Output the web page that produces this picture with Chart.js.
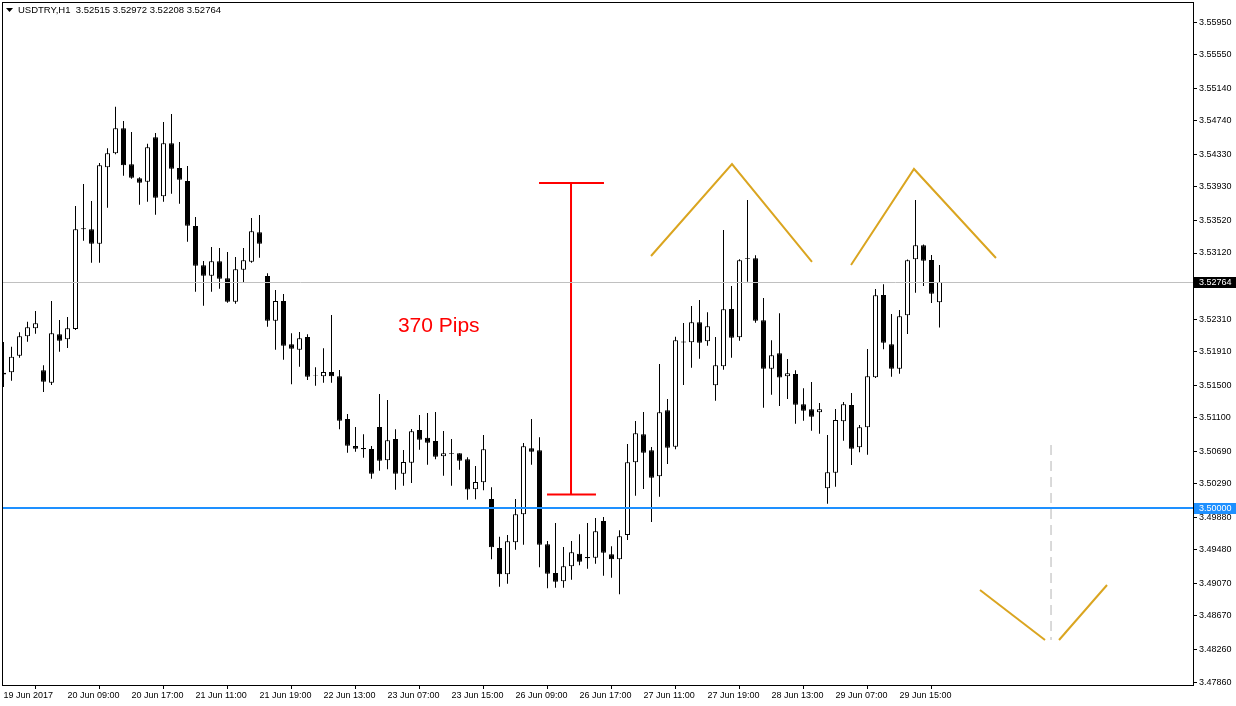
<!DOCTYPE html>
<html>
<head>
<meta charset="utf-8">
<script src="https://cdn.jsdelivr.net/npm/chart.js@4.4.1/dist/chart.umd.min.js"></script>
<style>
  html, body { margin: 0; padding: 0; background: #fff; }
  canvas { display: block; }
</style>
</head>
<body>
<canvas id="chart" width="1236" height="706"></canvas>
<script>
// USDTRY H1 candles, one entry per bar (left to right)
const opens = [
  3.51631, 3.51658, 3.51861, 3.52099, 3.52197, 3.51682, 3.51530, 3.52123, 3.52062, 3.52188,
  3.53423, 3.53411, 3.53234, 3.54171, 3.54343, 3.54649, 3.54208, 3.54036, 3.53994, 3.54539,
  3.53815, 3.54465, 3.54162, 3.54003, 3.53451, 3.52969, 3.52842, 3.53018, 3.52810, 3.52523,
  3.52915, 3.53014, 3.53374, 3.52838, 3.52290, 3.52532, 3.52001, 3.51935, 3.52090, 3.51618,
  3.51609, 3.51661, 3.51609, 3.51085, 3.50754, 3.50729, 3.50717, 3.50987, 3.50579, 3.50840,
  3.50414, 3.50549, 3.50950, 3.50856, 3.50815, 3.50628, 3.50668, 3.50664, 3.50591, 3.50223,
  3.50309, 3.50104, 3.49503, 3.49181, 3.49573, 3.49917, 3.50726, 3.50701, 3.49549, 3.49197,
  3.49095, 3.49279, 3.49434, 3.49393, 3.49385, 3.49834, 3.49426, 3.49365, 3.49663, 3.50554,
  3.50897, 3.50701, 3.50383, 3.51192, 3.50745, 3.52035, 3.52025, 3.52271, 3.52038, 3.51498,
  3.51731, 3.52434, 3.52087, 3.53055, 3.53055, 3.52295, 3.51702, 3.51891, 3.51609, 3.51637,
  3.51265, 3.51204, 3.51167, 3.50235, 3.50427, 3.51057, 3.51257, 3.50738, 3.50983, 3.51596,
  3.52605, 3.52001, 3.51702, 3.52356, 3.53043, 3.53215, 3.53034, 3.52515
];
const highs = [
  3.52029, 3.51971, 3.52148, 3.52278, 3.52409, 3.51743, 3.52532, 3.52299, 3.52336, 3.53696,
  3.53966, 3.53758, 3.54224, 3.54404, 3.54914, 3.54738, 3.54604, 3.54048, 3.54460, 3.54591,
  3.54726, 3.54824, 3.54481, 3.54187, 3.53562, 3.53022, 3.53194, 3.53181, 3.53132, 3.53071,
  3.53181, 3.53549, 3.53586, 3.52871, 3.52667, 3.52618, 3.52136, 3.52152, 3.52123, 3.51719,
  3.51952, 3.52360, 3.51686, 3.51146, 3.50987, 3.50897, 3.50754, 3.51392, 3.51318, 3.50959,
  3.50705, 3.50962, 3.51134, 3.51159, 3.51171, 3.50938, 3.50840, 3.50664, 3.50615, 3.50509,
  3.50889, 3.50248, 3.49642, 3.49663, 3.50104, 3.50791, 3.51085, 3.50861, 3.49589, 3.49810,
  3.49516, 3.49589, 3.49671, 3.49810, 3.49871, 3.49884, 3.49524, 3.49720, 3.50779, 3.51061,
  3.51171, 3.50742, 3.51759, 3.51330, 3.52094, 3.52262, 3.52470, 3.52544, 3.52393, 3.52090,
  3.53402, 3.52716, 3.53043, 3.53770, 3.53092, 3.52569, 3.52050, 3.52381, 3.51821, 3.51682,
  3.51461, 3.51539, 3.51281, 3.50889, 3.51208, 3.51293, 3.51404, 3.51011, 3.51943, 3.52679,
  3.52736, 3.52372, 3.52421, 3.53040, 3.53770, 3.53224, 3.53096, 3.52972
];
const lows = [
  3.51477, 3.51555, 3.51837, 3.52033, 3.52131, 3.51416, 3.51502, 3.51910, 3.51955, 3.52176,
  3.53271, 3.53001, 3.53001, 3.53675, 3.54330, 3.54068, 3.54031, 3.53712, 3.53749, 3.53590,
  3.53749, 3.53847, 3.53725, 3.53259, 3.52646, 3.52474, 3.52646, 3.52682, 3.52511, 3.52499,
  3.52756, 3.53001, 3.53063, 3.52217, 3.51935, 3.51812, 3.51510, 3.51726, 3.51563, 3.51493,
  3.51530, 3.51530, 3.50959, 3.50672, 3.50684, 3.50611, 3.50353, 3.50451, 3.50468, 3.50218,
  3.50267, 3.50300, 3.50709, 3.50525, 3.50591, 3.50390, 3.50267, 3.50463, 3.50096, 3.50101,
  3.50211, 3.49365, 3.49029, 3.49066, 3.49483, 3.49544, 3.50525, 3.49267, 3.49009, 3.49017,
  3.49017, 3.49115, 3.49291, 3.49250, 3.49311, 3.49164, 3.49139, 3.48936, 3.49602, 3.50145,
  3.50227, 3.49822, 3.50132, 3.50533, 3.50714, 3.51502, 3.51714, 3.51824, 3.51984, 3.51309,
  3.51689, 3.51837, 3.52045, 3.52768, 3.52266, 3.51224, 3.51383, 3.51244, 3.51330, 3.51027,
  3.51064, 3.50942, 3.50905, 3.50047, 3.50255, 3.50819, 3.50521, 3.50677, 3.50647, 3.51588,
  3.51940, 3.51604, 3.51640, 3.52127, 3.52633, 3.52716, 3.52507, 3.52208
];
const closes = [
  3.51653, 3.51849, 3.52099, 3.52209, 3.52258, 3.51542, 3.52136, 3.52045, 3.52197, 3.53411,
  3.53411, 3.53234, 3.54195, 3.54343, 3.54649, 3.54195, 3.54043, 3.53982, 3.54416, 3.53798,
  3.54465, 3.54154, 3.54019, 3.53455, 3.52965, 3.52842, 3.53018, 3.52805, 3.52523, 3.52920,
  3.53031, 3.53386, 3.53234, 3.52290, 3.52532, 3.51984, 3.51947, 3.52074, 3.51604, 3.51612,
  3.51661, 3.51609, 3.51064, 3.50758, 3.50721, 3.50714, 3.50414, 3.50574, 3.50824, 3.50414,
  3.50558, 3.50934, 3.50831, 3.50794, 3.50623, 3.50664, 3.50660, 3.50574, 3.50221, 3.50313,
  3.50714, 3.49512, 3.49181, 3.49586, 3.49917, 3.50750, 3.50684, 3.49544, 3.49188, 3.49090,
  3.49279, 3.49451, 3.49336, 3.49377, 3.49708, 3.49446, 3.49365, 3.49647, 3.50554, 3.50910,
  3.50672, 3.50365, 3.51167, 3.50733, 3.52050, 3.52023, 3.52271, 3.52020, 3.52222, 3.51743,
  3.52430, 3.52082, 3.53031, 3.53047, 3.52290, 3.51702, 3.51866, 3.51594, 3.51645, 3.51260,
  3.51187, 3.51113, 3.51204, 3.50432, 3.51073, 3.51265, 3.50721, 3.50983, 3.51609, 3.52602,
  3.52020, 3.51702, 3.52344, 3.53031, 3.53215, 3.53026, 3.52621, 3.52764
];

// time axis labels: every 8th bar
const xTickBars = [0, 8, 16, 24, 32, 40, 48, 56, 64, 72, 80, 88, 96, 104, 112];
const xTickLabels = [
  "19 Jun 2017", "20 Jun 09:00", "20 Jun 17:00", "21 Jun 11:00", "21 Jun 19:00",
  "22 Jun 13:00", "23 Jun 07:00", "23 Jun 15:00", "26 Jun 09:00", "26 Jun 17:00",
  "27 Jun 11:00", "27 Jun 19:00", "28 Jun 13:00", "29 Jun 07:00", "29 Jun 15:00"
];
// price scale labels
const yTicks = [
  3.55950, 3.55550, 3.55140, 3.54740, 3.54330, 3.53930, 3.53520, 3.53120, 3.52720, 3.52310,
  3.51910, 3.51500, 3.51100, 3.50690, 3.50290, 3.49880, 3.49480, 3.49070, 3.48670, 3.48260,
  3.47860
];

const symbol = "USDTRY,H1";
const bidPrice = 3.52764;
const levelPrice = 3.50000;

// drawings on the chart (bar index, price)
const measureTop = [{ x: 66.94, y: 3.53978 }, { x: 75.06, y: 3.53978 }];
const measureStem = [{ x: 70.94, y: 3.53978 }, { x: 70.94, y: 3.50159 }];
const measureBottom = [{ x: 67.94, y: 3.50159 }, { x: 74.06, y: 3.50159 }];
const measureText = { x: 49.3, y: 3.52225, text: "370 Pips" };
const peakLeft = [{ x: 80.94, y: 3.53083 }, { x: 91.06, y: 3.54211 }, { x: 101.06, y: 3.53010 }];
const peakRight = [{ x: 105.94, y: 3.52973 }, { x: 113.81, y: 3.54150 }, { x: 124.06, y: 3.53059 }];
const arrowLeft = [{ x: 122.06, y: 3.48989 }, { x: 130.19, y: 3.48376 }];
const arrowRight = [{ x: 131.94, y: 3.48376 }, { x: 137.94, y: 3.49050 }];
const arrowShaft = [{ x: 130.94, y: 3.50766 }, { x: 130.94, y: 3.48376 }];

const FONT = '"Liberation Sans", Arial, sans-serif';
const GOLD = "#DAA520";

const idx = opens.map((_, i) => i);
const wicks = idx.map(i => ({ x: i, y: [lows[i], highs[i]] }));
const bodies = idx.map(i => ({ x: i, y: [opens[i], closes[i]] }));
const bodyFill = idx.map(i => (closes[i] >= opens[i] ? "#ffffff" : "#000000"));

function seg(data, color, width, dash) {
  return {
    type: "line", data, borderColor: color, borderWidth: width, borderDash: dash || [],
    pointRadius: 0, tension: 0, fill: false, order: -1, clip: false
  };
}

const overlay = {
  id: "overlay",
  afterDatasetsDraw(chart) {
    const { ctx, chartArea: a, scales: { x, y } } = chart;
    ctx.save();
    // bid line
    const yb = Math.round(y.getPixelForValue(bidPrice)) + 0.5;
    ctx.strokeStyle = "#c0c0c0"; ctx.lineWidth = 1;
    ctx.beginPath(); ctx.moveTo(a.left, yb); ctx.lineTo(a.right, yb); ctx.stroke();
    // 3.5 level
    const yl = Math.round(y.getPixelForValue(levelPrice));
    ctx.strokeStyle = "#1E90FF"; ctx.lineWidth = 2;
    ctx.beginPath(); ctx.moveTo(a.left, yl); ctx.lineTo(a.right, yl); ctx.stroke();
    // measurement caption
    ctx.fillStyle = "#ff0000";
    ctx.font = '21px "Liberation Sans", Arial, sans-serif';
    ctx.textBaseline = "middle"; ctx.textAlign = "left";
    ctx.fillText(measureText.text, x.getPixelForValue(measureText.x), y.getPixelForValue(measureText.y));
    ctx.restore();
  },
  afterDraw(chart) {
    const { ctx, chartArea: a, scales: { y } } = chart;
    ctx.save();
    // frame
    ctx.strokeStyle = "#000"; ctx.lineWidth = 1;
    ctx.strokeRect(a.left - 0.5, a.top - 0.5, a.right - a.left + 1, a.bottom - a.top + 1);
    // price tags on the scale
    ctx.font = "9px " + FONT;
    ctx.textBaseline = "middle"; ctx.textAlign = "left";
    const tag = (price, bg) => {
      const py = Math.round(y.getPixelForValue(price));
      ctx.fillStyle = bg;
      ctx.fillRect(a.right + 1, py - 5, 1236 - a.right - 1, 11);
      ctx.fillStyle = "#fff";
      ctx.fillText(price.toFixed(5), a.right + 6, py + 0.5);
    };
    tag(bidPrice, "#000");
    tag(levelPrice, "#1E90FF");
    // header
    ctx.fillStyle = "#000";
    ctx.beginPath(); ctx.moveTo(6, 8); ctx.lineTo(13, 8); ctx.lineTo(9.5, 12); ctx.closePath(); ctx.fill();
    const last = opens.length - 1;
    const head = symbol + "  " + [opens[last], highs[last], lows[last], closes[last]].map(v => v.toFixed(5)).join(" ");
    ctx.font = "9.5px " + FONT;
    ctx.fillText(head, 18, 10.5);
    ctx.restore();
  }
};

new Chart(document.getElementById("chart"), {
  type: "bar",
  data: {
    datasets: [
      {
        data: bodies, backgroundColor: bodyFill, borderColor: "#000", borderWidth: 1,
        borderSkipped: false, barThickness: 5, grouped: false, inflateAmount: 0, order: 0
      },
      {
        data: wicks, backgroundColor: "#000", borderWidth: 0,
        barThickness: 1, grouped: false, inflateAmount: 0, order: 1
      },
      seg(measureTop, "#ff0000", 2),
      seg(measureStem, "#ff0000", 2),
      seg(measureBottom, "#ff0000", 2),
      seg(peakLeft, GOLD, 2),
      seg(peakRight, GOLD, 2),
      seg(arrowLeft, GOLD, 2),
      seg(arrowRight, GOLD, 2),
      seg(arrowShaft, "#b4b4b4", 1, [10, 6])
    ]
  },
  options: {
    responsive: false,
    animation: false,
    devicePixelRatio: 1,
    events: [],
    layout: { padding: { left: 3, top: 3, right: 0, bottom: 0 } },
    plugins: { legend: { display: false }, tooltip: { enabled: false } },
    scales: {
      x: {
        type: "linear", offset: false, min: -0.0625, max: 148.6875,
        border: { display: false },
        grid: { drawOnChartArea: false, drawTicks: true, tickLength: 4, color: "#000" },
        afterBuildTicks: s => { s.ticks = xTickBars.map(v => ({ value: v })); },
        afterFit: s => { s.height = 21; s.paddingLeft = 0; s.paddingRight = 0; },
        ticks: {
          autoSkip: false, maxRotation: 0, align: "start", padding: 1, color: "#000",
          font: { family: FONT, size: 9 },
          callback: (v, i) => xTickLabels[i]
        }
      },
      y: {
        type: "linear", position: "right", min: 3.47824, max: 3.56185,
        border: { display: false },
        grid: { drawOnChartArea: false, drawTicks: true, tickLength: 4, color: "#000" },
        afterBuildTicks: s => { s.ticks = yTicks.map(v => ({ value: v })); },
        afterFit: s => { s.width = 43; s.paddingTop = 0; s.paddingBottom = 0; },
        ticks: {
          padding: 2, color: "#000",
          font: { family: FONT, size: 9 },
          callback: v => v.toFixed(5)
        }
      }
    }
  },
  plugins: [overlay]
});
</script>
</body>
</html>
